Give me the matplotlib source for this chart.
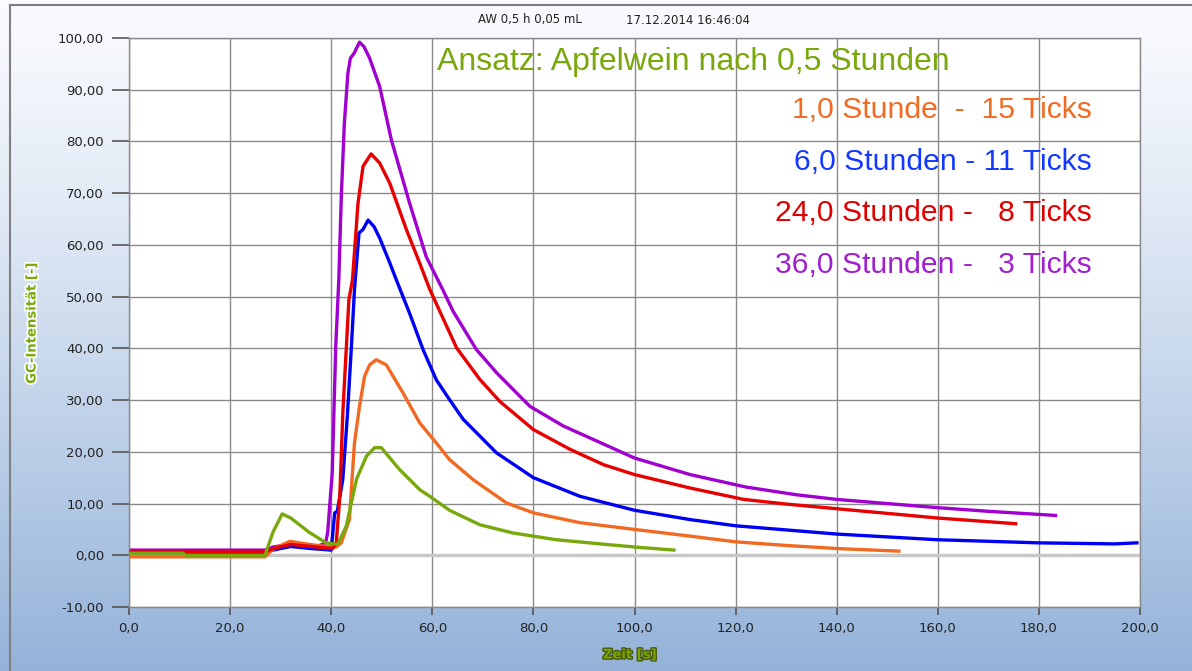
import matplotlib.pyplot as plt
import matplotlib.patheffects as pe
import numpy as np

# --- data ---
x_36h = [0, 24, 26.9, 28.5, 31, 34, 37, 38.9, 39.3, 40.2, 40.9, 41.5, 42, 42.6, 43.3, 43.8, 44.5,
         45.6, 46.5, 47.6, 49.6, 51.9, 55.5, 58.8, 62.1, 64.1, 68.7, 72.7, 79.3, 85.9, 92.5, 100,
         111, 122, 132, 140, 150, 160, 170, 183.3]
y_36h = [1.0, 1.0, 1.0, 1.6, 2.0, 1.8, 1.6, 2.4, 4.4, 15.9, 40.4, 53.2, 69.4, 83.5, 93.2, 96.1, 97.0,
         99.2, 98.3, 96.1, 90.6, 80.3, 68.1, 57.7, 51.3, 47.2, 39.8, 35.3, 28.8, 25.0, 22.1, 18.8,
         15.6, 13.2, 11.7, 10.8, 10.0, 9.2, 8.5, 7.7]

x_24h = [0, 26.9, 28.5, 32, 36, 40.3, 41, 41.7, 42.3, 43.5, 44.2, 45.3, 46.3, 47.9, 49.6, 51.6, 54.9,
         57.5, 59.5, 64.8, 69.4, 73.4, 80, 87.2, 93.9, 100, 111, 121.6, 130, 140, 150, 160, 175.4]
y_24h = [0.65, 0.65, 1.3, 2.1, 1.7, 1.3, 2.4, 11.4, 27.5, 49.4, 53.2, 68.0, 75.2, 77.6, 75.8, 71.9, 62.9,
         56.5, 51.4, 40.1, 34.0, 29.7, 24.3, 20.5, 17.5, 15.6, 13.0, 10.8, 9.9, 9.0, 8.1, 7.2, 6.1]

x_6h = [0, 26.9, 28.5, 32, 36, 40.0, 40.7, 41.2, 42.3, 43.2, 44.0, 44.6, 45.5, 46.3, 47.3, 48.5, 49.6,
        51.6, 52.9, 55.5, 58.2, 60.8, 63.4, 66.1, 72.7, 80, 89.2, 100, 111, 120, 140, 160, 180, 195, 199.4]
y_6h = [0.5, 0.5, 1.0, 1.7, 1.3, 1.0, 8.2, 8.5, 14.7, 27.0, 40.4, 51.3, 62.3, 63.0, 64.8, 63.5, 61.3,
        56.5, 53.2, 46.8, 39.7, 33.9, 30.1, 26.3, 19.8, 15.0, 11.4, 8.7, 6.9, 5.7, 4.1, 3.0, 2.4, 2.2, 2.4]

x_1h = [0, 26.9, 28.5, 31.8, 35, 38, 41, 42.0, 43.6, 44.6, 45.6, 46.6, 47.6, 48.9, 50.9, 54.2, 57.5,
        60.8, 63.4, 68.1, 74.7, 80, 89.2, 100, 111, 120, 130, 140, 152.3]
y_1h = [-0.3, -0.3, 1.2, 2.7, 2.2, 1.8, 1.6, 2.4, 6.9, 21.7, 28.8, 34.6, 36.8, 37.8, 36.8, 31.4, 25.6,
        21.7, 18.5, 14.6, 10.1, 8.2, 6.3, 5.0, 3.7, 2.6, 1.9, 1.3, 0.8]

x_05h = [0, 10.7, 11.2, 26.9, 28.5, 30.3, 32, 35.7, 39, 41.3, 43, 45, 47, 48.6, 49.9, 53.5, 57.5,
         59.5, 63.4, 69.4, 76, 84.6, 93.2, 100, 107.8]
y_05h = [0.4, 0.4, 0.0, 0.0, 4.5, 8.0, 7.2, 4.4, 2.4, 2.1, 5.7, 14.7, 19.2, 20.8, 20.8, 16.6, 12.7,
         11.4, 8.7, 5.9, 4.3, 3.0, 2.2, 1.6, 1.0]

labels = ['1,0 Stunde  -  15 Ticks', '6,0 Stunden - 11 Ticks',
          '24,0 Stunden -   8 Ticks', '36,0 Stunden -   3 Ticks']
label_colors = ['#f26a21', '#1438ff', '#e00000', '#a020d0']

fig = plt.figure(figsize=(11.92, 6.71), dpi=100)

# background gradient
bg = fig.add_axes([0, 0, 1, 1], zorder=-10)
grad = np.linspace(0, 1, 256).reshape(-1, 1)
top = np.array([0.98, 0.985, 0.997])
bot = np.array([0.58, 0.70, 0.85])
img = top + (bot - top) * grad[:, :, None] ** 1.2
bg.imshow(img, aspect='auto', extent=[0, 1, 0, 1])
bg.plot([10 / 1192, 10 / 1192], [0, 1 - 5 / 671], color='#808080', lw=1.5)
bg.plot([10 / 1192, 1], [1 - 5 / 671, 1 - 5 / 671], color='#808080', lw=1.5)
bg.set_xlim(0, 1)
bg.set_ylim(0, 1)
bg.axis('off')

ax = fig.add_axes([129 / 1192, 1 - 607 / 671, 1011 / 1192, 569 / 671])
ax.set_facecolor('white')

ax.axhline(0, color='#c8c8c8', lw=2.5, zorder=1)
ax.plot(x_36h, y_36h, color='#a000d0', lw=2.4, zorder=2)
ax.plot(x_6h, y_6h, color='#0000f5', lw=2.4, zorder=3)
ax.plot(x_1h, y_1h, color='#f26a21', lw=2.4, zorder=4)
ax.plot(x_24h, y_24h, color='#e80000', lw=2.4, zorder=5)
ax.plot(x_05h, y_05h, color='#78a80c', lw=2.4, zorder=6)

ax.set_xlim(0, 200)
ax.set_ylim(-10, 100)
xt = np.arange(0, 201, 20)
yt = np.arange(-10, 101, 10)
ax.set_xticks(xt)
ax.set_xticklabels([('%.1f' % v).replace('.', ',') for v in xt], fontsize=9.5, color='#222222')
ax.set_yticks(yt)
ax.set_yticklabels([('%.2f' % v).replace('.', ',') for v in yt], fontsize=9.5, color='#222222')
ax.tick_params(axis='y', length=12, width=1.2, color='#555555', pad=6)
ax.tick_params(axis='x', length=6, width=1.2, color='#555555', pad=5)
ax.grid(True, color='#8a8a8a', lw=1)
ax.set_axisbelow(True)
for s in ax.spines.values():
    s.set_color('#8a8a8a')
    s.set_linewidth(1)

# texts
fig.text(530 / 1192, 1 - 20 / 671, 'AW 0,5 h 0,05 mL', ha='center', va='center', fontsize=8.5, color='#222222')
fig.text(688 / 1192, 1 - 20 / 671, '17.12.2014 16:46:04', ha='center', va='center', fontsize=8.5, color='#222222')

fig.text(693 / 1192, 1 - 62 / 671, 'Ansatz: Apfelwein nach 0,5 Stunden',
         ha='center', va='center', fontsize=23, color='#78a80c', family='Liberation Sans')
for i, (t, c) in enumerate(zip(labels, label_colors)):
    yy = [110, 162, 213, 265][i]
    fig.text(1092 / 1192, 1 - yy / 671, t, ha='right', va='center', fontsize=21.7, color=c,
             family='Liberation Sans')

fig.text(32 / 1192, 1 - 323 / 671, 'GC-Intensität [-]', rotation=90, ha='center', va='center',
         fontsize=9.5, fontweight='bold', color='#78a80c',
         path_effects=[pe.withStroke(linewidth=2.5, foreground='white')])
fig.text(630 / 1192, 1 - 655 / 671, 'Zeit [s]', ha='center', va='center', fontsize=9.5,
         fontweight='bold', color='#7aa600',
         path_effects=[pe.withStroke(linewidth=2, foreground='#4a5a10')])

fig.savefig('out.png', dpi=100)
